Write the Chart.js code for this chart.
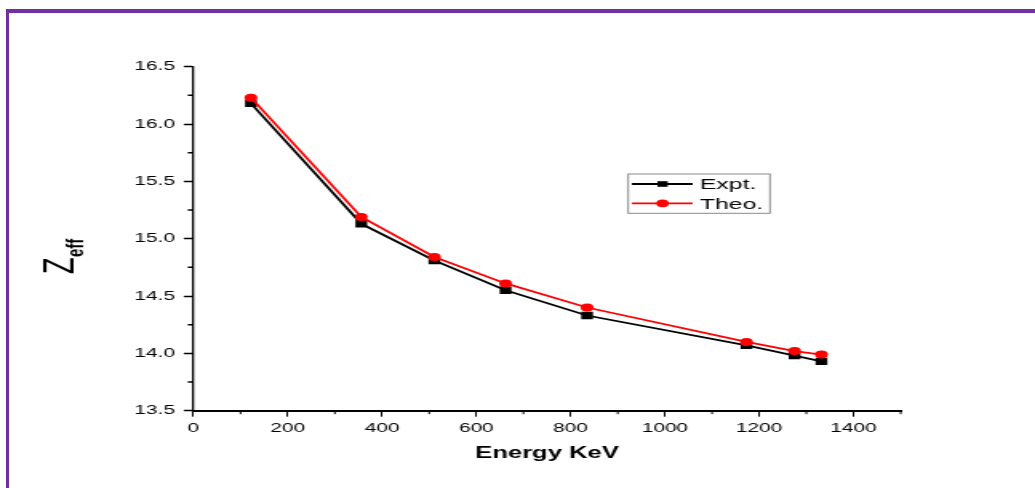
<!DOCTYPE html>
<html>
<head>
<meta charset="utf-8">
<title>Zeff vs Energy</title>
<script src="https://cdn.jsdelivr.net/npm/chart.js@4.4.1/dist/chart.umd.min.js"></script>
<style>
  html, body { margin: 0; padding: 0; background: #fff; }
  #wrap { position: relative; width: 1035px; height: 488px; overflow: hidden; }
  #plot { position: absolute; left: 0; top: 0; display: block; }
  .frame { position: absolute; background: #7030A0; }
</style>
</head>
<body>
<div id="wrap">
  <!-- the plot is rendered narrow and widened by CSS, so text and markers come out broad -->
  <canvas id="plot" width="647" height="488" style="width:1035px;height:488px;"></canvas>
  <div class="frame" style="left:6px;top:9px;width:1029px;height:4px;"></div>
  <div class="frame" style="left:6px;top:9px;width:3px;height:479px;"></div>
</div>
<script>
// Photon energies (keV) and effective atomic number
const energies = [122, 356, 511, 662, 835, 1173, 1275, 1332];
const exptZeff = [16.18, 15.13, 14.81, 14.55, 14.33, 14.07, 13.98, 13.93];
const theoZeff = [16.23, 15.19, 14.84, 14.61, 14.40, 14.10, 14.02, 13.99];

// Axis ticks
const xMajorTicks = [0, 200, 400, 600, 800, 1000, 1200, 1400];
const xMinorTicks = [100, 300, 500, 700, 900, 1100, 1300, 1500];
const yMajorTicks = [13.5, 14.0, 14.5, 15.0, 15.5, 16.0, 16.5];
const yMinorTicks = [13.75, 14.25, 14.75, 15.25, 15.75, 16.25];

const FONT = "'Liberation Sans', Arial, Helvetica, sans-serif";
Chart.defaults.font.family = FONT;
Chart.defaults.color = '#000';

const toPoints = (ys) => energies.map((e, i) => ({ x: e, y: ys[i] }));

// Minor ticks, axis titles and the framed legend
const decorations = {
  id: 'decorations',
  afterDraw(chart) {
    const { ctx, chartArea, scales } = chart;
    const xs = scales.x, ys = scales.y;
    ctx.save();
    ctx.strokeStyle = '#000';

    ctx.lineWidth = 1;
    ctx.beginPath();
    xMinorTicks.forEach(v => {
      const px = xs.getPixelForValue(v);
      ctx.moveTo(px, chartArea.bottom);
      ctx.lineTo(px, chartArea.bottom + 3.5);
    });
    ctx.stroke();

    ctx.lineWidth = 1.5;
    ctx.beginPath();
    yMinorTicks.forEach(v => {
      const py = ys.getPixelForValue(v);
      ctx.moveTo(chartArea.left, py);
      ctx.lineTo(chartArea.left - 3.5, py);
    });
    ctx.stroke();

    // x title
    ctx.fillStyle = '#000';
    ctx.font = `bold 16px ${FONT}`;
    ctx.textAlign = 'center';
    ctx.textBaseline = 'alphabetic';
    ctx.fillText('Energy KeV', (chartArea.left + chartArea.right) / 2, 458);

    // y title: Z with subscript "eff", reading upwards
    ctx.save();
    ctx.translate(46.2, 274);
    ctx.rotate(-Math.PI / 2);
    ctx.textAlign = 'left';
    ctx.font = `27px ${FONT}`;
    ctx.fillText('Z', 0, 0);
    const zw = ctx.measureText('Z').width;
    ctx.font = `bold 15px ${FONT}`;
    ctx.fillText('eff', zw + 0.5, 5.8);
    ctx.restore();

    // legend
    const box = { l: 392.7, t: 174, r: 481.3, b: 213.3 };
    ctx.lineWidth = 1;
    ctx.strokeStyle = '#8a8a8a';
    ctx.strokeRect(box.l, box.t, box.r - box.l, box.b - box.t);
    const rows = [184, 203.3];
    const ordered = [0, 1].map(i => chart.data.datasets[i]);
    ordered.forEach((ds, i) => {
      const y = rows[i];
      ctx.strokeStyle = ds.borderColor;
      ctx.lineWidth = 1.8;
      ctx.beginPath();
      ctx.moveTo(395, y);
      ctx.lineTo(433, y);
      ctx.stroke();
      ctx.fillStyle = ds.pointBackgroundColor;
      if (ds.pointStyle === 'rect') {
        ctx.fillRect(414.2 - 3.2, y - 2.8, 6.4, 5.6);
      } else {
        ctx.beginPath();
        ctx.arc(414.2, y, 3.9, 0, Math.PI * 2);
        ctx.fill();
      }
      ctx.fillStyle = '#000';
      ctx.font = `15.5px ${FONT}`;
      ctx.textAlign = 'left';
      ctx.fillText(ds.label, 437.5, y + 5.4);
    });

    ctx.restore();
  }
};

new Chart(document.getElementById('plot'), {
  type: 'line',
  data: {
    datasets: [
      {
        label: 'Expt.',
        data: toPoints(exptZeff),
        borderColor: '#000',
        borderWidth: 1.8,
        pointStyle: 'rect',
        pointRadius: 5.2,
        pointBackgroundColor: '#000',
        pointBorderWidth: 0,
        tension: 0,
        order: 1
      },
      {
        label: 'Theo.',
        data: toPoints(theoZeff),
        borderColor: '#ff0000',
        borderWidth: 1.8,
        pointStyle: 'circle',
        pointRadius: 4,
        pointBackgroundColor: '#ff0000',
        pointBorderWidth: 0,
        tension: 0,
        order: 0
      }
    ]
  },
  options: {
    responsive: false,
    animation: false,
    devicePixelRatio: 1,
    layout: { padding: { left: 0, right: 84, top: 66.7, bottom: 0 } },
    plugins: { legend: { display: false }, tooltip: { enabled: false } },
    scales: {
      x: {
        type: 'linear',
        min: 0,
        max: 1500,
        afterBuildTicks: (s) => { s.ticks = xMajorTicks.map(v => ({ value: v })); },
        afterFit: (s) => { s.height = 77.3; },
        grid: { display: true, drawOnChartArea: false, drawTicks: true, tickLength: 6, tickColor: '#000', tickWidth: 1 },
        border: { display: true, color: '#000', width: 2 },
        ticks: { padding: 4, font: { size: 13 }, color: '#000', maxRotation: 0, autoSkip: false, callback: (v) => String(v) }
      },
      y: {
        type: 'linear',
        min: 13.5,
        max: 16.5,
        afterBuildTicks: (s) => { s.ticks = yMajorTicks.map(v => ({ value: v })); },
        afterFit: (s) => { s.width = 120.9; },
        grid: { display: true, drawOnChartArea: false, drawTicks: true, tickLength: 6, tickColor: '#000', tickWidth: 1.5 },
        border: { display: true, color: '#000', width: 1.3 },
        ticks: { padding: 5.5, font: { size: 13 }, color: '#000', autoSkip: false, callback: (v) => Number(v).toFixed(1) }
      }
    }
  },
  plugins: [decorations]
});
</script>
</body>
</html>
